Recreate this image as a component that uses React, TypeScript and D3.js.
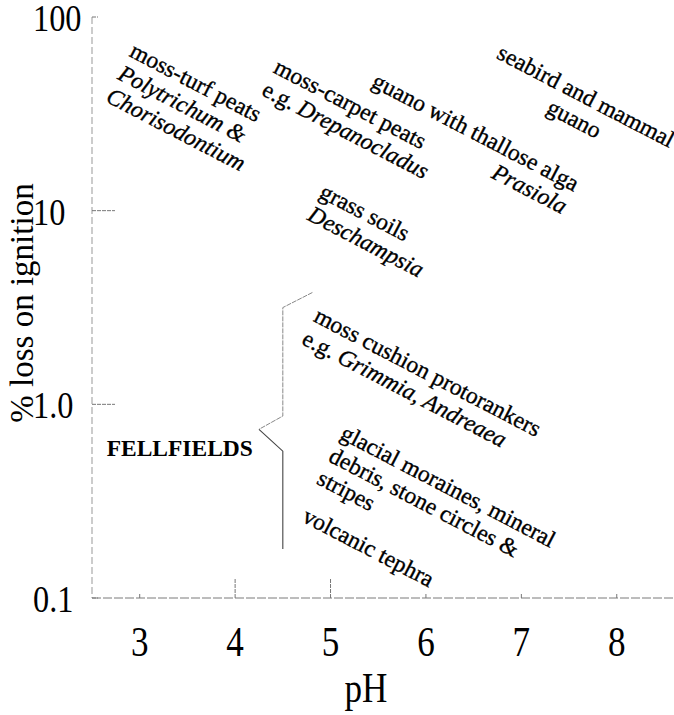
import React, { useEffect, useRef } from "react";
import * as d3 from "d3";

// axis ticks
const phTicks = [3, 4, 5, 6, 7, 8];
const loiTicks = [0.1, 1, 10, 100];
const loiTickLabels = ["0.1", "1.0", "10", "100"];

// habitat labels, each segment is [text, italic]
type Seg = [string, boolean];
const habitatLines: Seg[][][] = [
  [[["moss-turf peats", false]], [["Polytrichum &", true]], [["Chorisodontium", true]]],
  [[["moss-carpet peats", false]], [["e.g. ", false], ["Drepanocladus", true]]],
  [[["guano with thallose alga", false]], [["Prasiola", true]]],
  [[["seabird and mammal", false]], [["guano", false]]],
  [[["grass soils", false]], [["Deschampsia", true]]],
  [[["moss cushion protorankers", false]], [["e.g. ", false], ["Grimmia, Andreaea", true]]],
  [
    [["glacial moraines, mineral", false]],
    [["debris, stone circles &", false]],
    [["stripes", false]],
  ],
  [[["volcanic tephra", false]]],
];
// where each label sits (pH, % loss on ignition)
const habitatPh = [2.88, 4.39, 7.55, 7.64, 4.87, 4.81, 5.09, 4.69];
const habitatLoi = [63, 52, 12.5, 36, 11.8, 2.7, 0.67, 0.25];
const habitatAlign = ["start", "start", "end", "middle", "start", "start", "start", "start"];

// bracket grouping the fellfield soils
const braceUpper: [number, number][] = [
  [4.81, 3.78],
  [4.5, 3.16],
  [4.5, 0.87],
  [4.25, 0.743],
];
const braceLower: [number, number][] = [
  [4.25, 0.743],
  [4.5, 0.573],
  [4.5, 0.179],
];
const groupLabel = "FELLFIELDS";
const groupPh = 3.42;
const groupLoi = 0.54;

export default function App() {
  const ref = useRef<SVGSVGElement>(null);

  useEffect(() => {
    const svg = d3.select(ref.current);
    svg.selectAll("*").remove();

    const serif = "'Liberation Serif', 'Times New Roman', serif";
    const x = d3.scaleLinear().domain([2.5, 8.6]).range([92, 674]);
    const y = d3.scaleLog().domain([0.1, 100]).range([598, 17]);
    const x0 = x.range()[0];
    const y0 = y(0.1);

    // axis lines (faint, broken like the print)
    svg
      .append("line")
      .attr("x1", x0)
      .attr("x2", x0)
      .attr("y1", y(100))
      .attr("y2", y0)
      .attr("stroke", "#999")
      .attr("stroke-dasharray", "7,3")
      .attr("stroke-width", 1);
    svg
      .append("line")
      .attr("x1", x0)
      .attr("x2", 674)
      .attr("y1", y0)
      .attr("y2", y0)
      .attr("stroke", "#7a7a7a")
      .attr("stroke-dasharray", "9,2")
      .attr("stroke-width", 1);

    // y ticks
    const yt = svg.append("g");
    loiTicks.forEach((v, i) => {
      const len = v === 10 || v === 1 ? 23 : 6;
      yt.append("line")
        .attr("x1", x0)
        .attr("x2", x0 + len)
        .attr("y1", y(v))
        .attr("y2", y(v))
        .attr("stroke", "#777")
        .attr("stroke-dasharray", "4,1");
      yt.append("text")
        .attr("transform", `translate(33, ${y(v) + 14}) scale(0.95, 1.12)`)
        .attr("font-family", serif)
        .attr("font-size", 34)
        .text(loiTickLabels[i]);
    });

    // x ticks
    const xt = svg.append("g");
    phTicks.forEach((v) => {
      const len = v === 4 || v === 5 ? 20 : 5;
      xt.append("line")
        .attr("x1", x(v))
        .attr("x2", x(v))
        .attr("y1", y0)
        .attr("y2", y0 - len)
        .attr("stroke", "#777")
        .attr("stroke-dasharray", "4,1");
      xt.append("text")
        .attr("transform", `translate(${x(v)}, 656) scale(0.95, 1.15)`)
        .attr("text-anchor", "middle")
        .attr("font-family", serif)
        .attr("font-size", 37)
        .text(v);
    });

    // axis titles
    svg
      .append("text")
      .attr("transform", `translate(33, 303) rotate(-90)`)
      .attr("text-anchor", "middle")
      .attr("font-family", serif)
      .attr("font-size", 33)
      .text("% loss on ignition");
    svg
      .append("text")
      .attr("transform", `translate(366, 702) scale(0.95, 1.15)`)
      .attr("text-anchor", "middle")
      .attr("font-family", serif)
      .attr("font-size", 37)
      .text("pH");

    // bracket
    const line = d3
      .line<[number, number]>()
      .x((d) => x(d[0]))
      .y((d) => y(d[1]));
    svg
      .append("path")
      .attr("d", line(braceUpper))
      .attr("fill", "none")
      .attr("stroke", "#888")
      .attr("stroke-dasharray", "5,1")
      .attr("stroke-width", 1);
    svg
      .append("path")
      .attr("d", line(braceLower))
      .attr("fill", "none")
      .attr("stroke", "#444")
      .attr("stroke-width", 1.1);

    svg
      .append("text")
      .attr("x", x(groupPh))
      .attr("y", y(groupLoi))
      .attr("text-anchor", "middle")
      .attr("font-family", serif)
      .attr("font-weight", "bold")
      .attr("font-size", 23.5)
      .text(groupLabel);

    // rotated habitat labels
    habitatLines.forEach((lines, i) => {
      const g = svg
        .append("g")
        .attr(
          "transform",
          `translate(${x(habitatPh[i])},${y(habitatLoi[i])}) rotate(27.5)`
        );
      const t = g
        .append("text")
        .attr("text-anchor", habitatAlign[i])
        .attr("font-family", serif)
        .attr("font-size", 23.5)
        .attr("stroke", "#000")
        .attr("stroke-width", 0.35);
      lines.forEach((segs, j) => {
        segs.forEach((s, k) => {
          const ts = t.append("tspan").text(s[0]);
          if (k === 0) ts.attr("x", 0).attr("dy", j === 0 ? 0 : 25.5);
          if (s[1]) ts.attr("font-style", "italic");
        });
      });
    });
  }, []);

  return (
    <svg
      ref={ref}
      width={674}
      height={715}
      style={{ position: "absolute", left: 0, top: 0, background: "#fff" }}
    />
  );
}
